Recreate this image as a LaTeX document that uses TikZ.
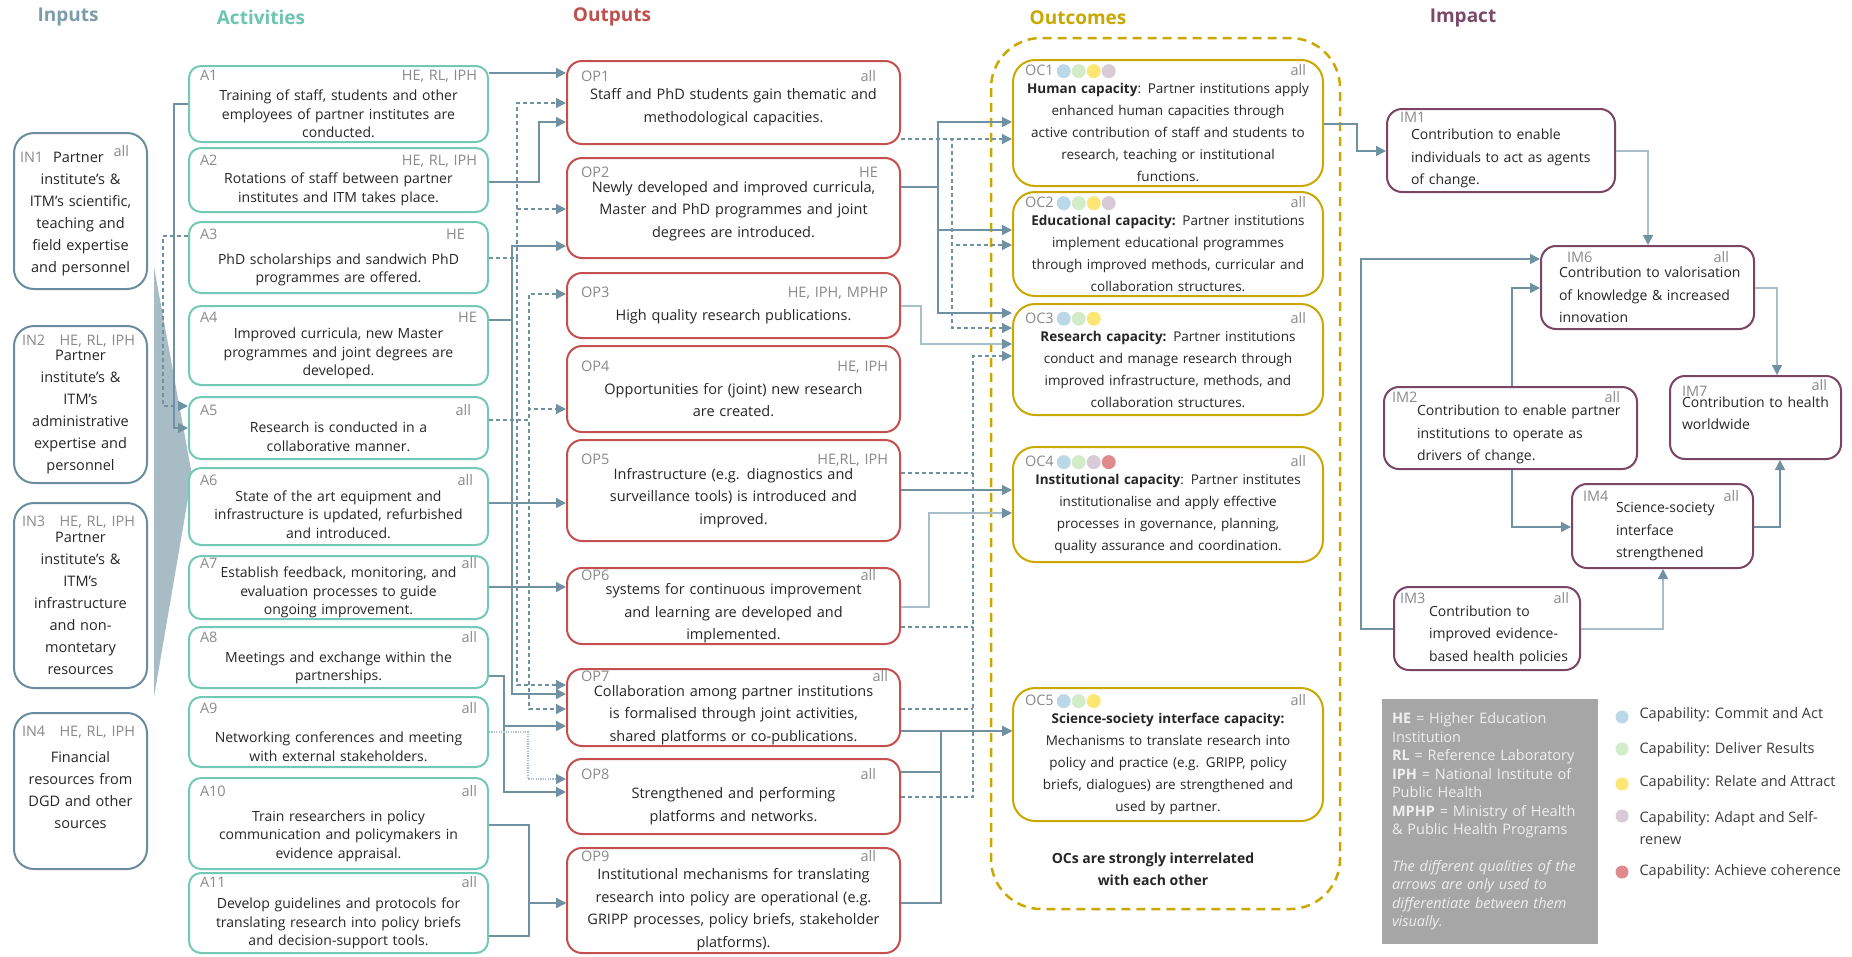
\documentclass[tikz,border=0pt]{standalone}
\usepackage{fontspec}
\setmainfont{Open Sans}
\usetikzlibrary{arrows.meta}
\definecolor{intitle}{HTML}{7C9CAC}
\definecolor{acttitle}{HTML}{6CC5B0}
\definecolor{outtitle}{HTML}{C0504D}
\definecolor{octitle}{HTML}{C9A800}
\definecolor{imtitle}{HTML}{7B4A6A}
\definecolor{inblue}{HTML}{6A8C9E}
\definecolor{actgreen}{HTML}{72C9B5}
\definecolor{outred}{HTML}{C5504F}
\definecolor{ocgold}{HTML}{CBA800}
\definecolor{implum}{HTML}{7B4566}
\definecolor{arrowblue}{HTML}{6F91A2}
\definecolor{arrowlight}{HTML}{A7BFCA}
\definecolor{wedgegray}{HTML}{A8BCC5}
\definecolor{idgray}{HTML}{8A8A8A}
\definecolor{txtdark}{HTML}{262626}
\definecolor{legendgray}{HTML}{A6A6A6}
\definecolor{legendtxt}{HTML}{EFEFEF}
\definecolor{cblue}{HTML}{BBD8E8}
\definecolor{cgreen}{HTML}{D2EBC8}
\definecolor{cyellow}{HTML}{FDE674}
\definecolor{cgray}{HTML}{D8CBD5}
\definecolor{cred}{HTML}{DF8A8B}
\newcommand{\idf}{\fontsize{14.5}{18}\selectfont\color{idgray}}
\newcommand{\padl}{0pt}
\newcommand{\padr}{0pt}
\newcommand{\idrow}[2]{\hspace*{\padl}{\idf #1}\hskip 0pt plus 1filll{\idf #2}\hspace*{\padr}\mbox{}}
\newcommand{\ind}{}
\newcommand{\capdot}[1]{\tikz[baseline=-4.5pt]\fill[#1] (0,0) circle[radius=7pt];\hspace{1pt}}
\tikzset{
    every node/.style={font=\fontsize{14}{18.5}\selectfont, text=txtdark},
    coltitle/.style={font=\fontsize{19}{22}\selectfont\bfseries},
    inbox/.style={draw=inblue, fill=white, line width=2pt, rounded corners=20pt, inner sep=0pt,
        minimum width=133pt, text width=133pt, align=center, font=\fontsize{14.5}{22}\selectfont,
        execute at begin node={\def\padl{8pt}\def\padr{12pt}}},
    actbox/.style={draw=actgreen, fill=white, line width=2pt, rounded corners=12pt, inner sep=0pt,
        minimum width=299pt, text width=299pt, align=center,
        execute at begin node={\def\padl{11pt}\def\padr{11pt}}},
    outbox/.style={draw=outred, fill=white, line width=2pt, rounded corners=15pt, inner sep=0pt,
        minimum width=333pt, text width=333pt, align=center, font=\fontsize{14.5}{22.5}\selectfont,
        execute at begin node={\def\padl{14pt}\def\padr{12pt}}},
    ocbox/.style={draw=ocgold, fill=white, line width=2pt, rounded corners=22pt, inner sep=0pt,
        minimum width=310pt, text width=310pt, align=center, font=\fontsize{13.5}{22}\selectfont,
        execute at begin node={\def\padl{12pt}\def\padr{17pt}}},
    imbox/.style={draw=implum, fill=white, line width=2pt, rounded corners=15pt, inner sep=0pt, align=left,
        font=\fontsize{14}{22.5}\selectfont},
    ocframe/.style={draw=ocgold, line width=2.5pt, dash pattern=on 9pt off 6pt, rounded corners=50pt},
    abbrbox/.style={fill=legendgray, minimum width=216pt, minimum height=245pt, inner xsep=10pt, text width=196pt,
        align=left, text=legendtxt, font=\fontsize{14.5}{18.5}\selectfont},
    legendtext/.style={align=left, anchor=west, font=\fontsize{14.5}{22}\selectfont, text=txtdark!90},
    flow/.style={draw=arrowblue, line width=1.5pt, -{Triangle[length=10pt,width=10pt,color=arrowblue]}},
    flowlight/.style={flow, draw=arrowlight},
    flowdash/.style={flow, dash pattern=on 4pt off 3pt, line width=1.3pt},
    flowdot/.style={flow, draw=arrowlight, dash pattern=on 1.2pt off 1.2pt, line width=1.3pt}
}
\begin{document}
\begin{tikzpicture}[x=1pt,y=-1pt]
\path[fill=white] (0,0) rectangle (1852,956);

% column titles
\node[coltitle, text=intitle] (tin) at (68,17) {Inputs};
\node[coltitle, text=acttitle] (tact) at (261,17) {Activities};
\node[coltitle, text=outtitle] (tout) at (612,17) {Outputs};
\node[coltitle, text=octitle] (toc) at (1078,18) {Outcomes};
\node[coltitle, text=imtitle] (tim) at (1463,18) {Impact};

% wedge inputs -> activities
\fill[wedgegray] (154,267) -- (192,475) -- (154,697) -- cycle;

% inputs
\node[inbox, minimum height=156pt] (IN1) at (80.5,211) {\hspace*{6pt}{\idf IN1}\hskip 0pt plus 1filll Partner\hskip 0pt plus 1filll\raisebox{6pt}{\idf all}\hspace*{18pt}\mbox{}\\institute's \&\\ITM's scientific,\\teaching and\\field expertise\\and personnel};
\foreach \n/\y/\h/\g/\txt in {
    IN2/404.5/157/-7/{Partner\\institute's \&\\ITM's\\administrative\\expertise and\\personnel},
    IN3/595.5/185/-6/{Partner\\institute's \&\\ITM's\\infrastructure\\and non-\\montetary\\resources},
    IN4/791/156/4/{Financial\\resources from\\DGD and other\\sources\\[6pt]\mbox{}}}{
    \node[inbox, minimum height=\h pt] (\n) at (80.5,\y) {\idrow{\n}{HE, RL, IPH}\\[\g pt]\txt};
}

% activities
\foreach \n/\y/\h/\g/\tg/\txt in {
    A1/104/76/1.5/{HE, RL, IPH}/{Training of staff, students and other\\employees of partner institutes are\\conducted.},
    A2/180/64/0/{HE, RL, IPH}/{Rotations of staff between partner\\institutes and ITM takes place.},
    A3/257.5/71/6/{HE\hspace*{12pt}}/{PhD scholarships and sandwich PhD\\programmes are offered.},
    A4/345.5/79/-2.5/HE/{Improved curricula, new Master\\programmes and joint degrees are\\developed.},
    A5/428/62/-1.5/{all\hspace*{6pt}}/{Research is conducted in a\\collaborative manner.},
    A6/506.5/77/-2.5/{all\hspace*{4pt}}/{State of the art equipment and\\infrastructure is updated, refurbished\\and introduced.},
    A7/587.5/63/-9/all/{Establish feedback, monitoring, and\\evaluation processes to guide\\ongoing improvement.},
    A8/657.5/61/1.5/all/{Meetings and exchange within the\\partnerships.},
    A9/732/70/10.5/all/{Networking conferences and meeting\\with external stakeholders.},
    A10/823.5/91/6.5/all/{Train researchers in policy\\communication and policymakers in\\evidence appraisal.},
    A11/913/80/2.5/all/{Develop guidelines and protocols for\\translating research into policy briefs\\and decision-support tools.}}{
    \node[actbox, minimum height=\h pt] (\n) at (338.5,\y) {\idrow{\n}{\tg}\\[\g pt]\txt};
}

% outputs
\foreach \n/\y/\h/\g/\tg/\txt in {
    OP1/102.5/83/-4.5/{all\hspace*{12pt}}/{Staff and PhD students gain thematic and\\methodological capacities.\\[-10pt]\mbox{}},
    OP2/208/100/-7.5/{HE\hspace*{10pt}}/{Newly developed and improved curricula,\\Master and PhD programmes and joint\\degrees are introduced.\\[-10pt]\mbox{}},
    OP3/305.5/65/0/{HE, IPH, MPHP}/{High quality research publications.},
    OP4/389/86/0/{HE, IPH}/{Opportunities for (joint) new research\\are created.},
    OP5/490.5/101/-7.5/{HE,RL, IPH}/{Infrastructure (e.g. diagnostics and\\surveillance tools) is introduced and\\improved.},
    OP6/606/76/-8/{all\hspace*{12pt}}/{systems for continuous improvement\\and learning are developed and\\implemented.},
    OP7/707.5/77/-8/all/{Collaboration among partner institutions\\is formalised through joint activities,\\shared platforms or co-publications.},
    OP8/796.5/75/-3.5/{all\hspace*{12pt}}/{Strengthened and performing\\platforms and networks.},
    OP9/900.5/105/-4.5/{all\hspace*{12pt}}/{Institutional mechanisms for translating\\research into policy are operational (e.g.\\GRIPP processes, policy briefs, stakeholder\\platforms).}}{
    \node[outbox, minimum height=\h pt] (\n) at (733.5,\y) {\idrow{\n}{\tg}\\[\g pt]\txt};
}

% outcomes
\draw[ocframe] (991,38) rectangle (1340,909);
\foreach \n/\y/\h/\dts/\txt in {
    OC1/123/126/{\capdot{cblue}\capdot{cgreen}\capdot{cyellow}\capdot{cgray}}/{\textbf{Human capacity}: Partner institutions apply\\enhanced human capacities through\\active contribution of staff and students to\\research, teaching or institutional\\functions.},
    OC2/244/104/{\capdot{cblue}\capdot{cgreen}\capdot{cyellow}\capdot{cgray}}/{\textbf{Educational capacity:} Partner institutions\\implement educational programmes\\through improved methods, curricular and\\collaboration structures.},
    OC3/359.5/111/{\capdot{cblue}\capdot{cgreen}\capdot{cyellow}}/{\textbf{Research capacity:} Partner institutions\\conduct and manage research through\\improved infrastructure, methods, and\\collaboration structures.},
    OC4/504.5/115/{\capdot{cblue}\capdot{cgreen}\capdot{cgray}\capdot{cred}}/{\textbf{Institutional capacity}: Partner institutes\\institutionalise and apply effective\\processes in governance, planning,\\quality assurance and coordination.},
    OC5/754.5/133/{\capdot{cblue}\capdot{cgreen}\capdot{cyellow}}/{\textbf{Science-society interface capacity:}\\Mechanisms to translate research into\\policy and practice (e.g. GRIPP, policy\\briefs, dialogues) are strengthened and\\used by partner.}}{
    \node[ocbox, minimum height=\h pt] (\n) at (1168,\y) {\idrow{\n\hspace{3pt}\dts}{all}\\[-4pt]\txt};
}
\node[font=\fontsize{14}{22.5}\selectfont\bfseries, align=center] (ocnote) at (1153,869) {OCs are strongly interrelated\\with each other};

% impact
\foreach \n/\x/\y/\w/\h/\ti/\ii/\tg/\tr/\g/\txt in {
    IM1/1501/150.5/228/83/24/13/{}/0/-5.5/{\ind Contribution to enable\\\ind individuals to act as agents\\\ind of change.},
    IM6/1647.5/287.5/213/83/18/26/all/25/-7.5/{\ind Contribution to valorisation\\\ind of knowledge \& increased\\\ind innovation},
    IM2/1510.5/428/253/82/33/8/all/17/-9.5/{\ind Contribution to enable partner\\\ind institutions to operate as\\\ind drivers of change.},
    IM7/1755.5/417.5/171/83/12/12/{\raisebox{6pt}{all}}/14/-11.5/{\ind Contribution to health\\\ind worldwide\\[3.5pt]\mbox{}},
    IM4/1662.5/526/181/84/44/11/all/14/-11.5/{\ind Science-society\\\ind interface\\\ind strengthened},
    IM3/1487/628.5/186/83/35/6/all/11/-9.5/{\ind Contribution to\\\ind improved evidence-\\\ind based health policies}}{
    \node[imbox, minimum width=\w pt, text width=\w pt, minimum height=\h pt] (\n) at (\x,\y)
        {\def\padl{\ii pt}\def\padr{\tr pt}\def\ind{\hspace*{\ti pt}}\idrow{\n}{\tg}\\[\g pt]\txt};
}

% legend
\node[abbrbox] (abbr) at (1490,821.5) {\textbf{HE} = Higher Education\\Institution\\\textbf{RL} = Reference Laboratory\\\textbf{IPH} = National Institute of\\Public Health\\\textbf{MPHP} = Ministry of Health\\\& Public Health Programs\\[18pt]\itshape The different qualities of the\\arrows are only used to\\differentiate between them\\visually.};
\foreach \c/\y/\ty/\lbl [count=\i] in {
    cblue/717/715/{Capability: Commit and Act},
    cgreen/749/750/{Capability: Deliver Results},
    cyellow/784/783/{Capability: Relate and Attract},
    cgray/816/828/{Capability: Adapt and Self-\\renew},
    cred/872/872/{Capability: Achieve coherence}}{
    \fill[\c] (1622,\y) circle[radius=6.5pt];
    \node[legendtext] (cap\i) at (1636,\ty) {\lbl};
}

% inputs side loops into A5
\draw[flow] (A1.west|-0,104) -| (174,428) -- (A5.west|-0,428);
\draw[flowdash] (A3.west|-0,236) -| (163,406) -- (A5.west|-0,406);

% activities -> outputs
\draw[flow] (A1.east|-0,73) -- (OP1.west|-0,73);
\draw[flow] (A2.east|-0,182) -| (539,122) -- (OP1.west|-0,122);
\draw[flowdash] (A3.east|-0,258) -| (517,103) -- (OP1.west|-0,103);
\draw[flowdash] (A3.east|-0,258) -| (517,209) -- (OP2.west|-0,209);
\draw[flowdash] (A3.east|-0,258) -| (517,685) -- (OP7.west|-0,685);
\draw[flow] (A4.east|-0,320) -| (512,246) -- (OP2.west|-0,246);
\draw[flow] (A4.east|-0,320) -| (512,694) -- (OP7.west|-0,694);
\draw[flowdash] (A5.east|-0,420) -| (529,294) -- (OP3.west|-0,294);
\draw[flowdash] (A5.east|-0,420) -| (529,409) -- (OP4.west|-0,409);
\draw[flowdash] (A5.east|-0,420) -| (529,709) -- (OP7.west|-0,709);
\draw[flow] (A6.east|-0,503) -- (OP5.west|-0,503);
\draw[flow] (A7.east|-0,587) -- (OP6.west|-0,587);
\draw[flow] (A8.east|-0,676) -| (504,726) -- (OP7.west|-0,726);
\draw[flow] (A8.east|-0,676) -| (504,792) -- (OP8.west|-0,792);
\draw[flowdot] (A9.east|-0,732) -| (528,779) -- (OP8.west|-0,779);
\draw[flow] (A10.east|-0,825) -| (529,903) -- (OP9.west|-0,903);
\draw[flow] (A11.east|-0,936) -| (529,903) -- (OP9.west|-0,903);

% outputs -> outcomes
\draw[flowdash] (OP1.east|-0,139) -- (OC1.west|-0,139);
\draw[flowdash] (OP1.east|-0,139) -| (952,245) -- (OC2.west|-0,245);
\draw[flowdash] (OP1.east|-0,139) -| (952,328) -- (OC3.west|-0,328);
\draw[flow] (OP2.east|-0,187) -| (938,122) -- (OC1.west|-0,122);
\draw[flow] (OP2.east|-0,187) -| (938,230) -- (OC2.west|-0,230);
\draw[flow] (OP2.east|-0,187) -| (938,313) -- (OC3.west|-0,313);
\draw[flowlight] (OP3.east|-0,306) -| (921,344) -- (OC3.west|-0,344);
\coordinate (octrunk) at (973,356);
\draw[flowdash] (OP8.east|-0,797) -| (octrunk) -- (OC3.west|-0,356);
\draw[flowdash, -] (OP5.east|-0,473) -- (octrunk|-0,473);
\draw[flowdash, -] (OP6.east|-0,627) -- (octrunk|-0,627);
\draw[flowdash, -] (OP7.east|-0,709) -- (octrunk|-0,709);
\draw[flow] (OP5.east|-0,490) -- (OC4.west|-0,490);
\draw[flowlight] (OP6.east|-0,607) -| (929,513) -- (OC4.west|-0,513);
\draw[flow] (OP7.east|-0,731) -- (OC5.west|-0,731);
\draw[flow] (OP8.east|-0,772) -| (941,731) -- (OC5.west|-0,731);
\draw[flow] (OP9.east|-0,903) -| (941,731) -- (OC5.west|-0,731);

% outcomes -> impact
\draw[flow] (OC1.east|-0,124) -| (1357,151) -- (IM1.west|-0,151);
\draw[flow] (IM3.west|-0,629) -| (1361,259) -- (IM6.west|-0,259);
\draw[flowlight] (IM1.east|-0,151) -| (IM6.north-|1648,0);
\draw[flow] (IM2.north-|1512,0) |- (IM6.west|-0,288);
\draw[flow] (IM2.south-|1512,0) |- (IM4.west|-0,527);
\draw[flowlight] (IM6.east|-0,288) -| (IM7.north-|1777,0);
\draw[flow] (IM4.east|-0,527) -| (IM7.south-|1780,0);
\draw[flowlight] (IM3.east|-0,629) -| (IM4.south-|1663,0);
\end{tikzpicture}
\end{document}
